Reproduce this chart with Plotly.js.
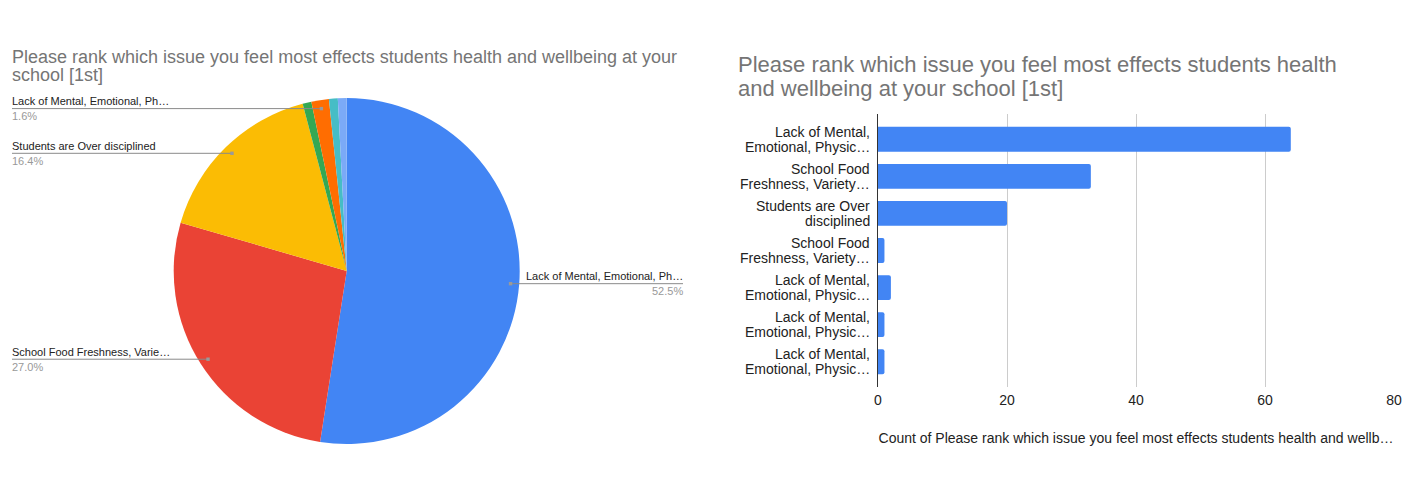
<!DOCTYPE html>
<html>
<head>
<meta charset="utf-8">
<script src="https://cdn.plot.ly/plotly-3.0.1.min.js"></script>
<style>
html,body{margin:0;padding:0;background:#fff;}
#chart{width:1422px;height:486px;}
</style>
</head>
<body>
<div id="chart"></div>
<script>
// ---- data ----
const pieTitleLines = ["Please rank which issue you feel most effects students health and wellbeing at your", "school [1st]"];
const barTitleLines = ["Please rank which issue you feel most effects students health", "and wellbeing at your school [1st]"];
const pieLabels = [
  "Lack of Mental, Emotional, Ph…",
  "School Food Freshness, Varie…",
  "Students are Over disciplined",
  "School Food Freshness, Varie…",
  "Lack of Mental, Emotional, Ph…",
  "Lack of Mental, Emotional, Ph…",
  "Lack of Mental, Emotional, Ph…"
];
const barLabelLine1 = ["Lack of Mental,", "School Food", "Students are Over", "School Food", "Lack of Mental,", "Lack of Mental,", "Lack of Mental,"];
const barLabelLine2 = ["Emotional, Physic…", "Freshness, Variety…", "disciplined", "Freshness, Variety…", "Emotional, Physic…", "Emotional, Physic…", "Emotional, Physic…"];
const counts = [64, 33, 20, 1, 2, 1, 1];
const sliceColors = ["#4285F4", "#EA4335", "#FBBC04", "#34A853", "#FF6D01", "#46BDC6", "#7BAAF7"];
const xTickVals = [0, 20, 40, 60, 80];
const xAxisTitle = "Count of Please rank which issue you feel most effects students health and wellb…";

// ---- geometry (layout only) ----
const W = 1422, H = 486;
const pieCx = 346.7, pieCy = 271, pieR = 173;
const px = v => v / W;
const py = v => 1 - v / H;
const FONT = "Liberation Sans, Arial, sans-serif";

const idx = counts.map((_, i) => i);

const pieTrace = {
  type: "pie",
  values: counts,
  labels: idx.map(i => "slice " + i),
  sort: false,
  direction: "clockwise",
  rotation: 0,
  textinfo: "none",
  hoverinfo: "skip",
  marker: {colors: sliceColors, line: {width: 0}},
  showlegend: false,
  domain: {x: [px(pieCx - pieR), px(pieCx + pieR)], y: [py(pieCy + pieR), py(pieCy - pieR)]}
};

const barTrace = {
  type: "bar",
  orientation: "h",
  x: counts,
  y: idx,
  width: 0.67,
  marker: {color: "#4285F4", cornerradius: 2},
  hoverinfo: "skip",
  showlegend: false,
  xaxis: "x",
  yaxis: "y"
};

const annotations = [];
const shapes = [];

// titles
pieTitleLines.forEach((t, k) => annotations.push({
  text: t, xref: "paper", yref: "paper", x: px(10), y: py(57 + 18 * k),
  xanchor: "left", yanchor: "middle", showarrow: false,
  font: {family: FONT, size: 18, color: "#757575"}
}));
barTitleLines.forEach((t, k) => annotations.push({
  text: t, xref: "paper", yref: "paper", x: px(736), y: py(64 + 24.5 * k),
  xanchor: "left", yanchor: "middle", showarrow: false,
  font: {family: FONT, size: 22, color: "#757575"}
}));

// bar category labels (two lines each, tied to the category axis)
idx.forEach(i => {
  [barLabelLine1[i], barLabelLine2[i]].forEach((t, k) => annotations.push({
    text: t, xref: "paper", yref: "y", x: px(872), y: i, yshift: k === 0 ? 7.5 : -7.5,
    xanchor: "right", yanchor: "middle", showarrow: false,
    font: {family: FONT, size: 14, color: "#222222"}
  }));
});

// pie callout labels computed from the data
const total = counts.reduce((a, b) => a + b, 0);
let cum = 0;
counts.forEach((v, i) => {
  const frac = v / total;
  const mid = (cum + frac / 2) * 2 * Math.PI;
  cum += frac;
  if (frac < 0.012) return;
  const dx = pieCx + 0.95 * pieR * Math.sin(mid);
  const dy = pieCy - 0.95 * pieR * Math.cos(mid);
  const right = Math.sin(mid) > 0;
  const pct = (frac * 100).toFixed(1) + "%";
  const x0 = right ? dx : 12;
  const x1 = right ? 683 : dx;
  shapes.push({type: "line", xref: "paper", yref: "paper", x0: px(x0), x1: px(x1), y0: py(dy), y1: py(dy),
    line: {color: "#8a8a8a", width: 1}});
  shapes.push({type: "rect", xref: "paper", yref: "paper", x0: px(dx - 1.7), x1: px(dx + 1.7), y0: py(dy - 1.7), y1: py(dy + 1.7),
    line: {width: 0}, fillcolor: "#9a9a9a"});
  annotations.push({
    text: pieLabels[i], xref: "paper", yref: "paper", x: px(right ? 685 : 10), y: py(dy - 7.5),
    xanchor: right ? "right" : "left", yanchor: "middle", showarrow: false,
    font: {family: FONT, size: 11, color: "#222222"}
  });
  annotations.push({
    text: pct, xref: "paper", yref: "paper", x: px(right ? 685 : 10), y: py(dy + 7.5),
    xanchor: right ? "right" : "left", yanchor: "middle", showarrow: false,
    font: {family: FONT, size: 11, color: "#999999"}
  });
});

const layout = {
  width: W, height: H,
  margin: {l: 0, r: 0, t: 0, b: 0, pad: 0},
  paper_bgcolor: "#ffffff",
  plot_bgcolor: "#ffffff",
  font: {family: FONT, color: "#222222"},
  showlegend: false,
  xaxis: {
    domain: [px(878), px(1394)],
    range: [0, 80],
    tickvals: xTickVals,
    ticks: "",
    showgrid: true, gridcolor: "#cccccc", gridwidth: 1,
    zeroline: false, showline: false,
    tickfont: {family: FONT, size: 14, color: "#222222"},
    ticklabelstandoff: 3,
    automargin: false,
    fixedrange: true,
    title: {text: xAxisTitle, standoff: 26, font: {family: FONT, size: 14, color: "#222222"}}
  },
  yaxis: {
    domain: [py(387), py(114)],
    range: [6.68, -0.68],
    tickvals: idx,
    showticklabels: false,
    ticks: "",
    showgrid: false,
    zeroline: false,
    showline: true, linecolor: "#333333", linewidth: 1,
    automargin: false,
    fixedrange: true
  },
  annotations: annotations,
  shapes: shapes
};

Plotly.newPlot("chart", [pieTrace, barTrace], layout, {displayModeBar: false, staticPlot: true});
</script>
</body>
</html>
